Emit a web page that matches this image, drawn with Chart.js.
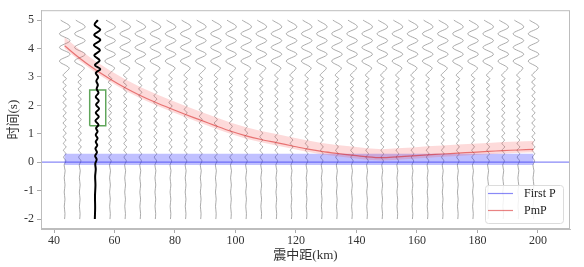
<!DOCTYPE html>
<html>
<head>
<meta charset="utf-8">
<script src="https://cdn.jsdelivr.net/npm/chart.js@4.4.1/dist/chart.umd.min.js"></script>
<style>
  html, body { margin: 0; padding: 0; background: #fff; }
  #wrap { width: 584px; height: 267px; }
</style>
</head>
<body>
<div id="wrap"><canvas id="seisChart"></canvas></div>
<script>
// station distances (km)
const distances = [43.5, 48.5, 53.5, 58.5, 63.5, 68.5, 73.5, 78.5, 83.5, 88.5, 93.5, 98.5,
  103.5, 108.5, 113.5, 118.5, 123.5, 128.5, 133.5, 138.5, 143.5, 148.5, 153.5, 158.5,
  163.5, 168.5, 173.5, 178.5, 183.5, 188.5, 193.5, 198.5];
// PmP pick relative to first P (s)
const pmpTimes = [4.10, 3.66, 3.27, 2.93, 2.62, 2.35, 2.11, 1.89, 1.68, 1.48, 1.28, 1.09,
  0.93, 0.80, 0.69, 0.58, 0.47, 0.38, 0.31, 0.25, 0.19, 0.16, 0.19, 0.22,
  0.26, 0.29, 0.32, 0.35, 0.38, 0.41, 0.43, 0.45];
const firstP = 0;
const windowBefore = 0.1;
const windowAfter = 0.3;

// gray trace shape: turning points (time s, offset km)
const grayT = [-2.0, -1.8, -1.55, -1.3, -1.05, -0.8, -0.55, -0.3, -0.1,
  0.05, 0.18, 0.3, 0.42, 0.54, 0.66, 0.78, 0.9, 1.02, 1.14, 1.26, 1.38, 1.5, 1.62,
  1.74, 1.86, 1.98, 2.1, 2.22, 2.34, 2.46, 2.58, 2.7, 2.82, 2.94, 3.06, 3.18,
  3.32, 3.56, 3.8, 4.04, 4.28, 4.52, 4.76, 5.0];
const grayOff = [0, 0.12, -0.1, 0.12, -0.12, 0.14, -0.12, 0.18, -0.15,
  0.4, -0.35, 0.45, -0.4, 0.5, -0.4, 0.45, -0.45, 0.5, -0.4, 0.45, -0.5, 0.5, -0.45,
  0.5, -0.45, 0.55, -0.5, 0.5, -0.45, 0.55, -0.5, 0.5, -0.55, 0.6, -0.5, 0.5,
  1.5, -1.7, 1.8, -1.7, 1.8, -1.7, 1.8, -1.3];

// highlighted trace
const blackDist = 53.5;
const blackT = [-2.0, -1.6, -1.2, -0.8, -0.5, -0.25, -0.05, 0.1, 0.22, 0.35, 0.48, 0.6,
  0.72, 0.84, 0.96, 1.08, 1.2, 1.32, 1.46, 1.6, 1.74, 1.88, 2.02, 2.16, 2.3, 2.44,
  2.58, 2.72, 2.86, 3.0, 3.14, 3.28, 3.42, 3.58, 3.76, 3.94, 4.12, 4.3, 4.48, 4.66, 4.84, 5.0];
const blackOff = [0.0, 0.1, 0.05, 0.2, 0.1, 0.3, 0.15, 0.6, 0.1, 0.7, 0.2, 0.8,
  0.3, 0.9, 0.3, 0.9, 0.4, 1.2, 0.2, 1.3, 0.3, 1.4, 0.4, 1.3, 0.3, 1.2,
  0.6, 1.0, 0.5, 1.1, 0.3, 1.8, 0.0, 1.6, -0.2, 1.7, -0.3, 1.8, -0.2, 1.8, -0.1, 1.0];

// green box around the highlighted window
const boxX = [51.8, 57.1];
const boxT = [1.28, 2.54];

const xTicks = [40, 60, 80, 100, 120, 140, 160, 180, 200];
const yTicks = [-2, -1, 0, 1, 2, 3, 4, 5];
const xRange = [35.7, 210.6];
const yRange = [-2.35, 5.35];

const blueLine = 'rgba(40,40,240,0.55)';
const redLine = 'rgba(215,30,30,0.55)';

const datasets = [];

datasets.push({
  label: 'trace', data: blackT.map((t, i) => ({x: blackDist + blackOff[i], y: t})),
  borderColor: '#000', borderWidth: 2, tension: 0.35, order: 0
});
datasets.push({
  label: 'box', data: [
    {x: boxX[0], y: boxT[0]}, {x: boxX[1], y: boxT[0]}, {x: boxX[1], y: boxT[1]},
    {x: boxX[0], y: boxT[1]}, {x: boxX[0], y: boxT[0]}],
  borderColor: '#5fa55a', borderWidth: 1.5, tension: 0, order: 1
});
datasets.push({
  label: 'PmP', data: distances.map((d, i) => ({x: d, y: pmpTimes[i]})),
  borderColor: redLine, borderWidth: 1.2, tension: 0.3, order: 2
});
datasets.push({
  label: 'First P', data: [{x: xRange[0], y: firstP}, {x: xRange[1], y: firstP}],
  borderColor: blueLine, borderWidth: 1.2, order: 3
});
// pick windows as closed shapes
const pmpUpper = distances.map((d, i) => ({x: d, y: pmpTimes[i] + windowAfter}));
const pmpLower = distances.map((d, i) => ({x: d, y: pmpTimes[i] - windowBefore})).reverse();
datasets.push({
  label: 'pmpWin', data: pmpUpper.concat(pmpLower),
  borderWidth: 0, borderColor: 'rgba(0,0,0,0)', tension: 0, order: 5,
  fill: 'shape', backgroundColor: 'rgba(245,70,70,0.2)'
});
const d0 = distances[0], d1 = distances[distances.length - 1];
datasets.push({
  label: 'pWin', data: [
    {x: d0, y: firstP + windowAfter}, {x: d1, y: firstP + windowAfter},
    {x: d1, y: firstP - windowBefore}, {x: d0, y: firstP - windowBefore}],
  borderWidth: 0, borderColor: 'rgba(0,0,0,0)', tension: 0, order: 5,
  fill: 'shape', backgroundColor: 'rgba(30,30,255,0.28)'
});
distances.forEach(d => {
  if (d === blackDist) return;
  datasets.push({
    label: 'g' + d, data: grayT.map((t, i) => ({x: d + grayOff[i], y: t})),
    borderColor: '#959595', borderWidth: 0.8, tension: 0.35, order: 10
  });
});

const framePlugin = {
  id: 'frame',
  afterDraw(chart) {
    const {ctx, chartArea: a} = chart;
    ctx.save();
    ctx.strokeStyle = '#bdbdbd';
    ctx.lineWidth = 1;
    ctx.strokeRect(a.left + 0.5, a.top + 0.5, a.right - a.left - 1, a.bottom - a.top - 1);
    // legend
    const lx = 485, ly = 185, lw = 78, lh = 38;
    ctx.fillStyle = 'rgba(255,255,255,0.85)';
    ctx.strokeStyle = '#dcdcdc';
    ctx.beginPath();
    ctx.roundRect(lx + 0.5, ly + 0.5, lw, lh, 3);
    ctx.fill();
    ctx.stroke();
    const items = [['First P', blueLine, 193.5], ['PmP', redLine, 210.5]];
    ctx.font = '12px "Liberation Serif", serif';
    ctx.textBaseline = 'middle';
    items.forEach(([txt, col, y]) => {
      ctx.strokeStyle = col;
      ctx.lineWidth = 1.2;
      ctx.beginPath();
      ctx.moveTo(488, y);
      ctx.lineTo(513, y);
      ctx.stroke();
      ctx.fillStyle = '#222';
      ctx.fillText(txt, 524, y);
    });
    ctx.restore();
  }
};

new Chart(document.getElementById('seisChart'), {
  type: 'scatter',
  data: {datasets},
  options: {
    animation: false,
    responsive: true,
    maintainAspectRatio: false,
    showLine: true,
    elements: {point: {radius: 0, hoverRadius: 0}},
    layout: {padding: {top: 10, right: 14, left: 2, bottom: 0}},
    plugins: {legend: {display: false}, tooltip: {enabled: false}},
    scales: {
      x: {
        type: 'linear', min: xRange[0], max: xRange[1],
        afterBuildTicks: s => { s.ticks = xTicks.map(v => ({value: v})); },
        afterFit: s => { s.height = 38; },
        grid: {drawOnChartArea: false, tickLength: 4, color: '#aaa'},
        border: {color: '#bdbdbd'},
        ticks: {padding: 1, color: '#333', font: {family: 'Liberation Serif', size: 12}},
        title: {display: true, text: '震中距(km)', color: '#333', padding: {top: 3},
          font: {family: "'Liberation Serif','Noto Sans CJK SC'", size: 13}}
      },
      y: {
        type: 'linear', min: yRange[0], max: yRange[1],
        afterBuildTicks: s => { s.ticks = yTicks.map(v => ({value: v})); },
        afterFit: s => { s.width = 39; },
        grid: {drawOnChartArea: false, tickLength: 4, color: '#aaa'},
        border: {color: '#bdbdbd'},
        ticks: {padding: 3, color: '#333', font: {family: 'Liberation Serif', size: 12}},
        title: {display: true, text: '时间(s)', color: '#333', padding: {bottom: 0},
          font: {family: "'Liberation Serif','Noto Sans CJK SC'", size: 13}}
      }
    }
  },
  plugins: [framePlugin]
});
</script>
</body>
</html>
